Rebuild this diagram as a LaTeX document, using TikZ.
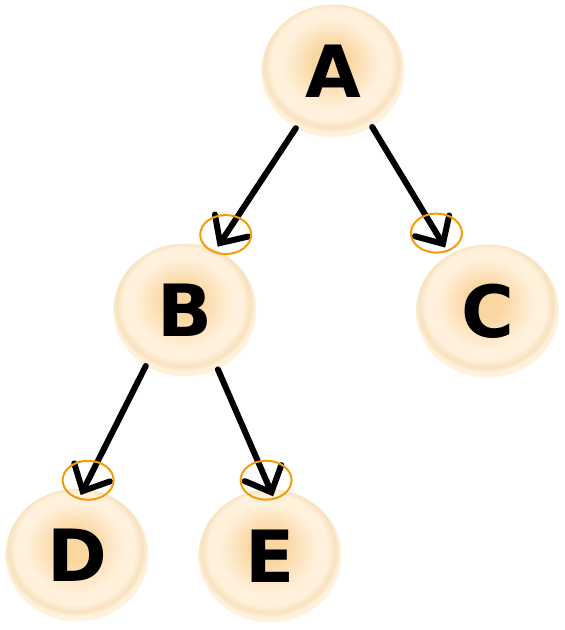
\documentclass[tikz,border=0pt]{standalone}
\usepackage{fontspec}
\setsansfont{DejaVu Sans}
\usetikzlibrary{arrows.meta,shapes.geometric}
\definecolor{glowcore}{RGB}{250,214,160}
\definecolor{glowpale}{RGB}{255,241,220}
\definecolor{glowring}{RGB}{247,226,190}
\definecolor{tagline}{RGB}{245,155,10}
\pgfdeclareradialshading{glow}{\pgfpoint{-1bp}{4bp}}{%
  color(0bp)=(glowcore); color(6bp)=(glowcore);
  color(17bp)=(glowpale); color(21bp)=(glowpale);
  color(23.5bp)=(glowring); color(25bp)=(glowpale); color(50bp)=(white)}
\tikzset{
  ball/.style={ellipse, minimum width=2.86cm, minimum height=2.66cm,
    inner sep=0pt, shading=glow,
    font=\sffamily\bfseries\fontsize{41}{41}\selectfont},
  link/.style={line width=0.12cm, line cap=round,
    -{Straight Barb[length=0.42cm, width=0.8cm, line cap=round]}},
  tag/.style={ellipse, draw=tagline, line width=0.04cm,
    minimum width=1.02cm, minimum height=0.78cm, inner sep=0pt}
}
\begin{document}
\begin{tikzpicture}[x=0.02cm, y=-0.02cm]
    \useasboundingbox (0, 0) rectangle (565, 630);

    % 结点
    \node[ball] (A) at (333, 71) {A};
    \node[ball] (B) at (185, 310) {B};
    \node[ball] (C) at (487.5, 311) {C};
    \node[ball] (D) at (77, 555) {D};
    \node[ball] (E) at (270, 556) {E};

    % 连线
    \draw[link, shorten >=0.07cm] (A.237) -- (B.63) node[tag, pos=0.876] (tB) {};
    \draw[link, shorten >=0.16cm] (A.305) -- (C.124) node[tag, pos=0.833] (tC) {};
    \draw[link, shorten >=-0.146cm] (B.235) -- (D.84) node[tag, pos=0.933] (tD) {};
    \draw[link, shorten >=-0.156cm] (B.299) -- (E.90) node[tag, pos=0.925] (tE) {};
\end{tikzpicture}
\end{document}
